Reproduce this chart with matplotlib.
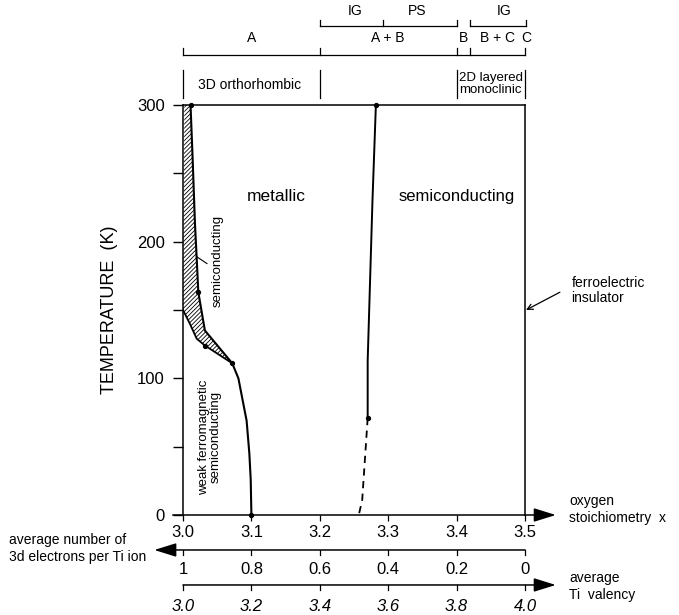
import numpy as np
import matplotlib.pyplot as plt

plt.rcParams['font.family'] = ['Liberation Sans', 'DejaVu Sans']
plt.rcParams['hatch.linewidth'] = 0.6

# -----------------------------
# Data
# -----------------------------
# upper edge of the hatched region (metal -> semiconductor)
x_up = [3.011, 3.014, 3.0175, 3.020, 3.0224, 3.032, 3.072]
T_up = [300, 262, 213, 188, 163, 135, 111]
# lower edge of the hatched region
x_lo = [3.002, 3.000, 3.010, 3.020, 3.032, 3.072]
T_lo = [300, 150, 140, 129, 124, 111]
# boundary of the weak ferromagnetic semiconducting phase
x_fm = [3.072, 3.081, 3.093, 3.097, 3.099, 3.100]
T_fm = [111, 100, 69, 45, 26, 0]
# metallic / semiconducting boundary
x_ms = [3.282, 3.277, 3.270, 3.270]
T_ms = [300, 230, 113, 71]
x_ms_dash = [3.270, 3.262, 3.257]
T_ms_dash = [71, 11, 0]

x_ticks = [3.0, 3.1, 3.2, 3.3, 3.4, 3.5]
electrons = ['1', '0.8', '0.6', '0.4', '0.2', '0']
valency = ['3.0', '3.2', '3.4', '3.6', '3.8', '4.0']

# -----------------------------
# Figure
# -----------------------------
fig = plt.figure(figsize=(6.79, 6.15), dpi=100)
ax = fig.add_axes([183/679, 100/615, 342/679, 410/615])
ax.set_xlim(3.0, 3.5)
ax.set_ylim(0, 300)

for s in ['left', 'top', 'right']:
    ax.spines[s].set_linewidth(1.1)
ax.spines['bottom'].set_visible(False)

ax.set_yticks([0, 100, 200, 300])
ax.set_yticks([50, 150, 250], minor=True)
ax.tick_params(axis='y', which='both', direction='out', length=7, width=1, pad=6, labelsize=12)
ax.set_xticks(x_ticks)
ax.set_xticklabels(['%.1f' % v for v in x_ticks])
ax.tick_params(axis='x', direction='out', length=4, width=0.9, pad=3, labelsize=12)

# hatched region
poly_x = np.concatenate([x_up, x_lo[::-1]])
poly_y = np.concatenate([T_up, T_lo[::-1]])
ax.fill(poly_x, poly_y, facecolor='white', edgecolor='k', hatch='////////', lw=0)
ax.plot(x_up, T_up, color='k', lw=1.5)
ax.plot(x_lo[1:], T_lo[1:], color='k', lw=1.3)
ax.plot(x_fm, T_fm, color='k', lw=1.5)
ax.plot(x_ms, T_ms, color='k', lw=1.4)
ax.plot(x_ms_dash, T_ms_dash, color='k', lw=1.3, ls=(0, (4, 3)))
ax.plot([x_up[0], x_up[4], x_up[-1], x_lo[4], x_fm[-1], x_ms[0], x_ms[-1]],
        [T_up[0], T_up[4], T_up[-1], T_lo[4], T_fm[-1], T_ms[0], T_ms[-1]],
        'o', color='k', ms=2.8, clip_on=False)

# region labels
ax.text(3.137, 233, 'metallic', fontsize=12.5, ha='center', va='center')
ax.text(3.400, 233, 'semiconducting', fontsize=12, ha='center', va='center')
ax.text(3.050, 186, 'semiconducting', fontsize=9.5, rotation=90, ha='center', va='center')
ax.plot([3.035, 3.020], [184, 189], color='k', lw=0.8)
ax.text(3.039, 57, 'weak ferromagnetic\nsemiconducting', fontsize=9.5, rotation=90,
        ha='center', va='center', linespacing=1.0)
ax.annotate('', xy=(3.5015, 150), xytext=(3.551, 163),
            arrowprops=dict(arrowstyle='->', color='k', lw=0.9, shrinkA=0, shrinkB=0),
            annotation_clip=False)
ax.text(3.568, 164, 'ferroelectric\ninsulator', fontsize=10, ha='left', va='center',
        linespacing=1.1)

# -----------------------------
# Top annotation rows
# -----------------------------
kw = dict(color='k', lw=0.9, clip_on=False)
# row 3: structures
for xv in [3.0, 3.2, 3.4, 3.5]:
    ax.plot([xv, xv], [305, 325.5], **kw)
ax.text(3.098, 314.5, '3D orthorhombic', fontsize=10, ha='center', va='center')
ax.text(3.45, 315.5, '2D layered\nmonoclinic', fontsize=9.5, ha='center', va='center',
        linespacing=1.0)
# row 2: phases
ax.plot([3.0, 3.5], [336.5, 336.5], **kw)
for xv in [3.0, 3.2, 3.4, 3.42, 3.5]:
    ax.plot([xv, xv], [336.5, 341.5], **kw)
for xv, lab in [(3.1, 'A'), (3.3, 'A + B'), (3.41, 'B'), (3.46, 'B + C'), (3.502, 'C')]:
    ax.text(xv, 344, lab, fontsize=10, ha='center', va='bottom')
# row 1: IG / PS
ax.plot([3.2, 3.4], [357.5, 357.5], **kw)
for xv in [3.2, 3.292, 3.4]:
    ax.plot([xv, xv], [357.5, 362], **kw)
ax.plot([3.42, 3.502], [357.5, 357.5], **kw)
for xv in [3.42, 3.502]:
    ax.plot([xv, xv], [357.5, 362], **kw)
for xv, lab in [(3.251, 'IG'), (3.342, 'PS'), (3.469, 'IG')]:
    ax.text(xv, 364, lab, fontsize=10, ha='center', va='bottom')

# -----------------------------
# Bottom axes with arrows
# -----------------------------
arrow = dict(arrowstyle='-|>,head_length=0.9,head_width=0.28', color='k', lw=1.1,
             mutation_scale=15, shrinkA=0, shrinkB=0)
ax.annotate('', xy=(3.545, 0), xytext=(2.985, 0), arrowprops=arrow, annotation_clip=False)
ax.text(3.565, 4, 'oxygen\nstoichiometry  x', fontsize=10, ha='left', va='center',
        linespacing=1.3)

y2 = -25.6
ax.annotate('', xy=(2.958, y2), xytext=(3.5, y2), arrowprops=arrow, annotation_clip=False)
for xv, lab in zip(x_ticks, electrons):
    ax.plot([xv, xv], [y2, y2 - 4], **kw)
    ax.text(xv, y2 - 14.5, lab, fontsize=12, ha='center', va='center')
ax.text(2.745, y2 + 1, 'average number of\n3d electrons per Ti ion', fontsize=10,
        ha='left', va='center', linespacing=1.3)

y3 = -51.2
ax.annotate('', xy=(3.545, y3), xytext=(3.0, y3), arrowprops=arrow, annotation_clip=False)
for xv, lab in zip(x_ticks, valency):
    ax.plot([xv, xv], [y3, y3 - 4], **kw)
    ax.text(xv, y3 - 16, lab, fontsize=12, ha='center', va='center', style='italic')
ax.text(3.565, y3 - 1, 'average\nTi  valency', fontsize=10, ha='left', va='center',
        linespacing=1.3)

fig.text(110/679, 1 - 310/615, 'TEMPERATURE  (K)', fontsize=13, rotation=90,
         ha='center', va='center')

fig.savefig('out.png', dpi=100)
